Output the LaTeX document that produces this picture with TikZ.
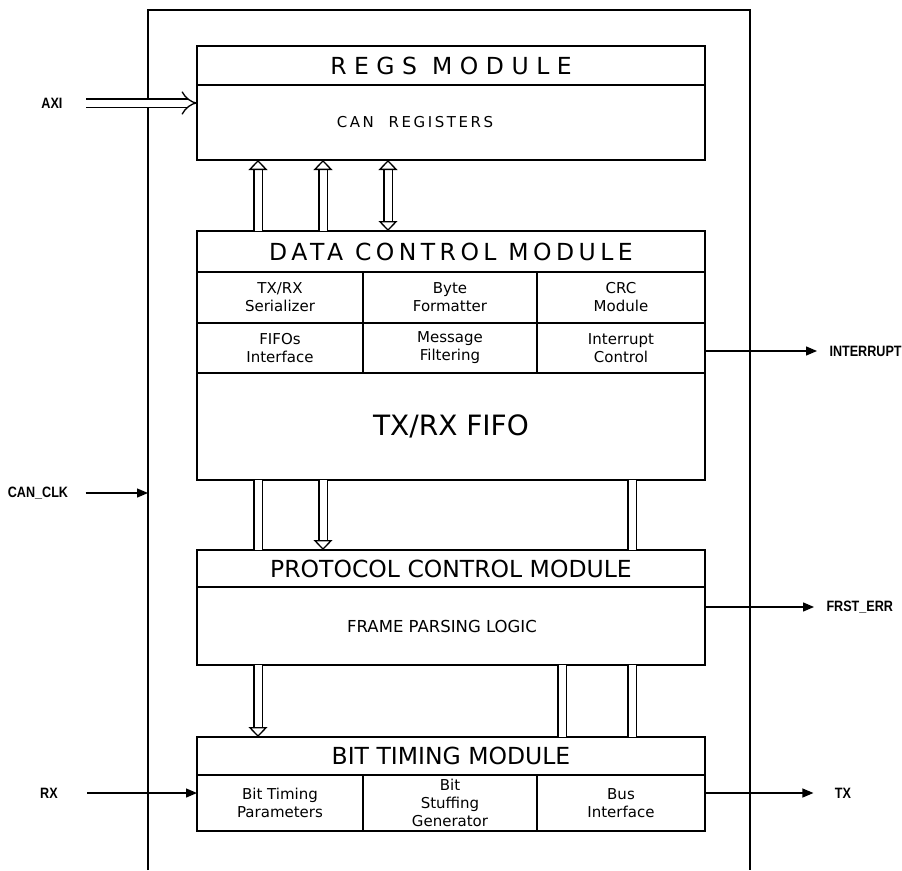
\documentclass[tikz,border=0pt]{standalone}
\usepackage{fontspec}
\setmainfont{DejaVu Sans}
\newfontfamily\pinfont[FakeStretch=0.84]{Liberation Sans}
\newfontfamily\wideA[LetterSpace=32]{DejaVu Sans}
\newfontfamily\wideB[LetterSpace=19]{DejaVu Sans}
\newfontfamily\wideC[LetterSpace=17]{DejaVu Sans}
\usetikzlibrary{arrows.meta,positioning}

\begin{document}
\begin{tikzpicture}[
  x=1pt, y=-1pt, line join=miter,
  box/.style={draw, line width=1.4pt, minimum width=508pt, inner sep=0pt,
              outer sep=0pt, align=center},
  ttl/.style={box, font=\fontsize{23.5}{26}\selectfont},
  cell/.style={draw, line width=1.4pt, inner sep=0pt, outer sep=0pt,
               align=center, font=\fontsize{15}{18}\selectfont},
  bus/.style={double, double distance=7pt, line width=1.3pt},
  tip/.tip={Triangle[length=10pt,width=19pt,fill=white,line width=1.3pt]},
  sig/.style={-{Triangle[length=11pt,width=9pt]}, line width=1.3pt},
  pin/.style={font=\pinfont\bfseries\fontsize{15}{17}\selectfont}]

\useasboundingbox (0,0) rectangle (902,870);

% outer frame
\coordinate (fw) at (148,10);
\coordinate (fe) at (750,10);
\draw[line width=1.4pt] (148,870) -- (fw) -- (fe) -- (750,870);

% ---------------------------------------------------------------- regs
\node[ttl, minimum height=39pt, font=\wideA\fontsize{23.5}{26}\selectfont] (regsT) at (451,65.5) {REGS MODULE};
\node[box, minimum height=75pt, below=0pt of regsT,
      font=\wideC\fontsize{15}{17}\selectfont] (regs) {CAN\ \ REGISTERS\hspace*{72pt}};

% ---------------------------------------------------------------- data control
\node[ttl, minimum height=41pt, font=\wideB\fontsize{23.5}{26}\selectfont] (dataT) at (451,251.5) {DATA CONTROL MODULE};
\node[cell, minimum width=166pt, minimum height=51pt, anchor=north west]
  (ser) at (dataT.south west) {TX/RX\\Serializer};
\node[cell, minimum width=174pt, minimum height=51pt, right=0pt of ser] (fmt) {Byte\\Formatter};
\node[cell, minimum width=168pt, minimum height=51pt, right=0pt of fmt] (crc) {CRC\\Module};
\node[cell, minimum width=166pt, minimum height=50pt, below=0pt of ser] (fif) {FIFOs\\Interface};
\node[cell, minimum width=174pt, minimum height=50pt, below=0pt of fmt] (flt) {Message\\Filtering};
\node[cell, minimum width=168pt, minimum height=50pt, below=0pt of crc] (itc) {Interrupt\\Control};
\node[box, minimum height=107pt, anchor=north west, font=\fontsize{28}{30}\selectfont]
  (fifo) at (fif.south west) {TX/RX FIFO};

% ---------------------------------------------------------------- protocol
\node[ttl, minimum height=37pt] (protT) at (451,568.5) {PROTOCOL CONTROL MODULE};
\node[box, minimum height=78pt, below=0pt of protT,
      font=\fontsize{16.5}{18}\selectfont] (prot) {FRAME PARSING LOGIC\hspace*{18pt}};

% ---------------------------------------------------------------- bit timing
\node[ttl, minimum height=38pt] (bitT) at (451,756) {BIT TIMING MODULE};
\node[cell, minimum width=166pt, minimum height=56pt, anchor=north west]
  (btp) at (bitT.south west) {Bit Timing\\Parameters};
\node[cell, minimum width=174pt, minimum height=56pt, right=0pt of btp] (bsg) {Bit\\Stuffing\\Generator};
\node[cell, minimum width=168pt, minimum height=56pt, right=0pt of bsg] (bif) {Bus\\Interface};

% ---------------------------------------------------------------- buses
\draw[bus, -tip] ([xshift=61pt]dataT.north west) -- ([xshift=61pt]regs.south west);
\draw[bus, -tip] ([xshift=126pt]dataT.north west) -- ([xshift=126pt]regs.south west);
\draw[bus, tip-tip] ([xshift=191pt]dataT.north west) -- ([xshift=191pt]regs.south west);

\draw[bus] ([xshift=61pt]fifo.south west) -- ([xshift=61pt]protT.north west);
\draw[bus, -tip] ([xshift=126pt]fifo.south west) -- ([xshift=126pt]protT.north west);
\draw[bus] ([xshift=435pt]fifo.south west) -- ([xshift=435pt]protT.north west);

\draw[bus, -tip] ([xshift=61pt]prot.south west) -- ([xshift=61pt]bitT.north west);
\draw[bus] ([xshift=365pt]prot.south west) -- ([xshift=365pt]bitT.north west);
\draw[bus] ([xshift=435pt]prot.south west) -- ([xshift=435pt]bitT.north west);

% ---------------------------------------------------------------- pins
\node[pin] (axi) at (52,103) {AXI};
\draw[bus, -{Implies}] ([xshift=20pt]axi.east) -- (regs.west |- axi);

\node[pin] (clk) at (38,493) {CAN\_CLK};
\draw[sig] ([xshift=14pt]clk.east) -- (clk.east -| fw);

\node[pin, anchor=west] (irq) at (826,351) {INTERRUPT};
\draw[sig] (itc.east |- irq) -- ([xshift=-9pt]irq.west);

\node[pin, anchor=west] (err) at (823,607) {FRST\_ERR};
\draw[sig] (prot.east |- err) -- ([xshift=-9pt]err.west);

\node[pin] (rx) at (49,793) {RX};
\draw[sig] ([xshift=26pt]rx.east) -- (btp.west |- rx);

\node[pin] (tx) at (843,793) {TX};
\draw[sig] (bif.east |- tx) -- ([xshift=-18pt]tx.west);

\end{tikzpicture}
\end{document}
